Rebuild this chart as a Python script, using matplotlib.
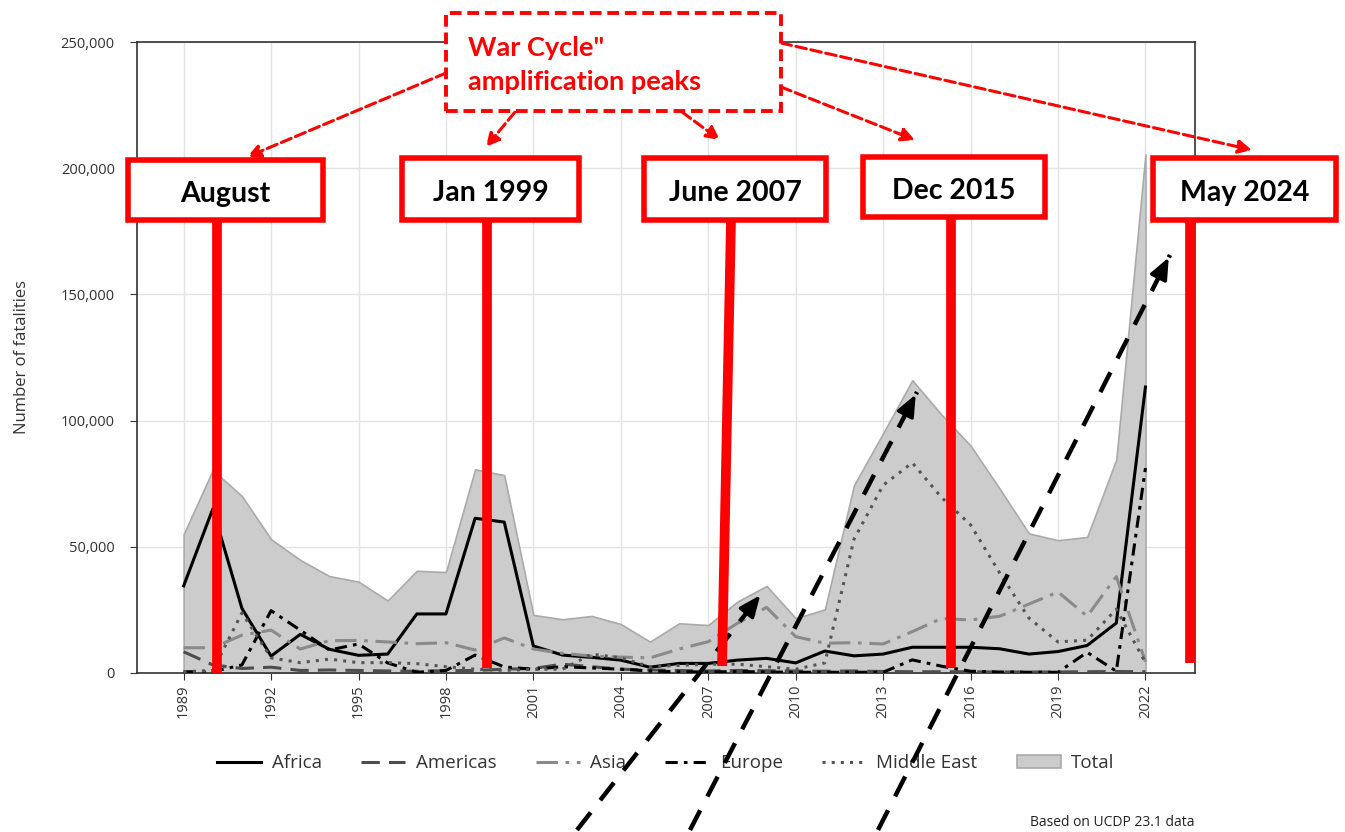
import matplotlib
matplotlib.use("Agg")
import matplotlib.pyplot as plt
from matplotlib.patches import Rectangle
from matplotlib.lines import Line2D
from matplotlib.ticker import FuncFormatter

plt.rcParams["font.family"] = ["Open Sans", "DejaVu Sans"]

# --- data (UCDP fatalities by region) ---
years = list(range(1989, 2023))
africa = [34500, 65000, 25600, 6700, 15300, 9400, 7000, 7500, 23400, 23400,
          61300, 59800, 10700, 7100, 6200, 5100, 2300, 3800, 3800, 5100,
          5800, 4000, 8700, 6800, 7500, 10200, 10200, 10200, 9600, 7500,
          8500, 10900, 19800, 113300]
americas = [8400, 3200, 1800, 2300, 1000, 1200, 1000, 800, 700, 900,
            1000, 1500, 1800, 3500, 2500, 1500, 1200, 1000, 800, 1000,
            900, 800, 700, 800, 600, 500, 500, 500, 400, 400,
            400, 500, 600, 500]
asia = [10000, 10000, 15000, 17000, 9500, 12800, 12900, 12300, 11600, 12000,
        9100, 13900, 9500, 7800, 6700, 6300, 6000, 9500, 12400, 19700,
        26000, 14400, 11800, 12000, 11500, 16400, 21600, 21000, 22500, 27300,
        32100, 22500, 38200, 4500]
europe = [500, 500, 3200, 24700, 17000, 9100, 11500, 4000, 300, 1000,
          7100, 2400, 1500, 2500, 2000, 1500, 800, 500, 400, 600,
          400, 300, 300, 300, 300, 5200, 2700, 700, 400, 300,
          300, 8200, 700, 81200]
middle_east = [500, 1000, 23800, 6000, 4100, 5500, 4100, 4100, 3700, 2500,
               1500, 1000, 1500, 1500, 7500, 6000, 2500, 3000, 3500, 3500,
               2500, 1500, 4000, 53000, 74400, 83300, 69600, 58700, 39600, 21800,
               12300, 13000, 25300, 4100]
total = [55000, 80400, 70100, 53000, 44800, 38400, 36200, 28700, 40500, 40000,
         80700, 78400, 23000, 21300, 22600, 19400, 12400, 19700, 19000, 28300,
         34500, 21700, 25200, 74400, 95000, 116000, 102400, 90100, 73000, 55300,
         52600, 53900, 84600, 205500]

peak_labels = ["August", "Jan 1999", "June 2007", "Dec 2015", "May 2024"]
callout_text = 'War Cycle"\namplification peaks'
source_note = "Based on UCDP 23.1 data"

W, H = 1345, 832


def fp(x, y):
    """pixel position -> figure fraction"""
    return x / W, 1 - y / H


fig = plt.figure(figsize=(W / 100, H / 100), dpi=100)
ax = fig.add_axes([137 / W, 1 - 673 / H, (1195 - 137) / W, (673 - 42) / H])

ax.fill_between(years, total, 0, color="#cccccc", edgecolor="#aaaaaa",
                linewidth=1.2, label="Total", zorder=1)
ax.plot(years, africa, color="black", lw=2.2, label="Africa", zorder=3)
ax.plot(years, americas, color="#4d4d4d", lw=2.2, ls=(0, (6, 3)),
        label="Americas", zorder=3)
ax.plot(years, asia, color="#8a8a8a", lw=2.2, ls=(0, (7, 2.5, 1.2, 2.5)),
        label="Asia", zorder=3)
ax.plot(years, europe, color="black", lw=2.2, ls=(0, (4, 2, 1.2, 2)),
        label="Europe", zorder=3)
ax.plot(years, middle_east, color="#555555", lw=2.2, ls=(0, (1, 2)),
        label="Middle East", zorder=3)

ax.set_xlim(1987.4, 2023.7)
ax.set_ylim(0, 250000)
ax.set_xticks(years[::3])
ax.set_xticklabels([str(y) for y in years[::3]], rotation=90)
ax.set_yticks(range(0, 250001, 50000))
ax.yaxis.set_major_formatter(FuncFormatter(lambda v, _: f"{int(v):,}"))
ax.tick_params(labelsize=10.5, labelcolor="#333333", color="#333333", length=5)
ax.tick_params(axis="y", pad=11)
ax.grid(True, color="#e3e3e3", lw=1)
ax.set_axisbelow(True)
for s in ax.spines.values():
    s.set_color("#333333")
    s.set_linewidth(1.2)
ax.set_ylabel("Number of fatalities", fontsize=12, color="#333333", labelpad=22)

handles, labels = ax.get_legend_handles_labels()
order = ["Africa", "Americas", "Asia", "Europe", "Middle East", "Total"]
hmap = dict(zip(labels, handles))
ax.legend([hmap[k] for k in order], order, loc="center",
          bbox_to_anchor=(0.5, -0.143), ncol=6, frameon=False, fontsize=13.5,
          handlelength=2.35, handletextpad=0.55, columnspacing=2.1,
          labelcolor="#333333")

fig.text(*fp(1195, 822), source_note, ha="right", va="center", fontsize=10,
         color="#222222")

# --- black dashed trend arrows ---
for (x0, y0), (x1, y1) in [((577, 830), (762, 593)),
                           ((690, 830), (917, 392)),
                           ((878, 830), (1170, 255))]:
    fig.add_artist(Line2D([fp(x0, y0)[0], fp(x1, y1)[0]],
                          [fp(x0, y0)[1], fp(x1, y1)[1]],
                          transform=fig.transFigure, color="black", lw=3.2,
                          ls=(0, (5, 3.5)), zorder=6))
    ax.annotate("", xy=fp(x1, y1), xycoords="figure fraction",
                xytext=fp(x1 - (x1 - x0) * 0.06, y1 - (y1 - y0) * 0.06),
                textcoords="figure fraction",
                arrowprops=dict(arrowstyle="-|>,head_length=1.3,head_width=0.55",
                                color="black", lw=2.5),
                zorder=7, annotation_clip=False)

# --- red vertical markers and label boxes ---
boxes = [(128, 160, 323, 220), (402, 158, 579, 220), (644, 158, 826, 220),
         (863, 157, 1045, 217), (1153, 158, 1336, 220)]
markers = [((217, 220), (217, 673)), ((487, 220), (487, 668)),
           ((731, 220), (722, 666)), ((951, 217), (951, 668)),
           ((1190, 220), (1190, 663))]
for (top, bot) in markers:
    fig.add_artist(Line2D([fp(*top)[0], fp(*bot)[0]], [fp(*top)[1], fp(*bot)[1]],
                          transform=fig.transFigure, color="#ff0000", lw=7,
                          solid_capstyle="butt", zorder=8))
for (x0, y0, x1, y1), lab in zip(boxes, peak_labels):
    fig.add_artist(Rectangle(fp(x0, y1), (x1 - x0) / W, (y1 - y0) / H,
                             transform=fig.transFigure, facecolor="white",
                             edgecolor="#ff0000", lw=4, zorder=9))
    fig.text(*fp((x0 + x1) / 2, (y0 + y1) / 2 + 4), lab, ha="center",
             va="center", fontsize=20.5, fontweight="bold", family="Lato",
             color="black", zorder=10)

# --- red dashed callout ---
fig.add_artist(Rectangle(fp(446, 111), (781 - 446) / W, (111 - 13) / H,
                         transform=fig.transFigure, facecolor="white",
                         edgecolor="#ff0000", lw=2.8, ls=(0, (3, 1.5)), zorder=9))
fig.text(*fp(468, 65), callout_text, ha="left", va="center", fontsize=19.5,
         fontweight="bold", family="Lato", color="#ff0000", linespacing=1.45,
         zorder=10)
for (x0, y0), (x1, y1) in [((446, 73), (247, 157)), ((515, 112), (486, 147)),
                           ((682, 112), (720, 140)), ((781, 87), (915, 140)),
                           ((781, 43), (1252, 150))]:
    ax.annotate("", xy=fp(x1, y1), xycoords="figure fraction",
                xytext=fp(x0, y0), textcoords="figure fraction",
                arrowprops=dict(arrowstyle="-|>,head_length=0.8,head_width=0.4",
                                color="#ff0000", lw=2.2, ls=(0, (3.5, 1.5)),
                                shrinkA=0, shrinkB=0),
                zorder=9, annotation_clip=False)

fig.savefig("out.png", dpi=100)
